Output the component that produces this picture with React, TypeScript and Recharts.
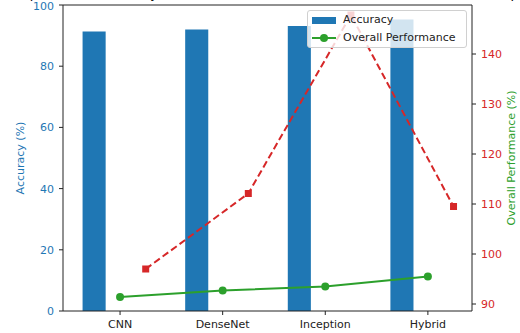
import React from 'react'
import { ComposedChart, Bar, Line, XAxis, YAxis, Legend, ReferenceLine } from 'recharts'

const categories = ['CNN', 'DenseNet', 'Inception', 'Hybrid']
const accuracy = [91.3, 92.0, 93.1, 95.3]
const overallPerformance = [91.4, 92.7, 93.5, 95.5]
const performanceScore = [97.0, 112.1, 147.8, 109.5]
const accuracyTicks = [0, 20, 40, 60, 80, 100]
const performanceTicks = [90, 100, 110, 120, 130, 140]
const categoryTicks = categories.map((_, i) => i)

const BLUE = '#1f77b4'
const GREEN = '#2ca02c'
const RED = '#d62728'
const FONT = 'DejaVu Sans'

const barData = categories.map((c, i) => ({ x: i - 0.25, name: c, accuracy: accuracy[i] }))
const overallData = categories.map((c, i) => ({ x: i, name: c, overall: overallPerformance[i] }))
const scoreData = categories.map((c, i) => ({ x: i + 0.25, name: c, score: performanceScore[i] }))

const AxisTitle = ({ viewBox, dx, text, color }: any) => {
  const cx = viewBox.x + dx
  const cy = viewBox.y + viewBox.height / 2
  return (
    <text x={cx} y={cy} transform={`rotate(-90 ${cx} ${cy})`} textAnchor="middle"
      dominantBaseline="central" fill={color} fontSize={11} fontFamily={FONT}>
      {text}
    </text>
  )
}

const SquareDot = (props: any) => {
  const { cx, cy, index } = props
  if (cx == null || cy == null) return <g key={index} />
  return <rect key={index} x={cx - 3.5} y={cy - 3.5} width={7} height={7} fill={RED} />
}

const LegendBox = () => (
  <div style={{
    position: 'relative', width: 160, height: 38, boxSizing: 'border-box',
    background: 'rgba(255,255,255,0.8)', border: '1px solid #d0d0d0', borderRadius: 3,
    fontFamily: FONT, fontSize: 11, color: '#222'
  }}>
    <div style={{ position: 'absolute', left: 4, top: 6, width: 24, height: 7, background: BLUE }} />
    <div style={{ position: 'absolute', left: 35, top: 2, lineHeight: '13px' }}>Accuracy</div>
    <div style={{ position: 'absolute', left: 4, top: 26, width: 24, height: 2, background: GREEN }} />
    <div style={{ position: 'absolute', left: 12, top: 23, width: 8, height: 8, borderRadius: 4, background: GREEN }} />
    <div style={{ position: 'absolute', left: 35, top: 20, lineHeight: '13px' }}>Overall Performance</div>
  </div>
)

const App = () => {
  return (
    <div style={{ position: 'absolute', left: 0, top: 0, width: 520, height: 333, overflow: 'hidden', background: '#fff' }}>
      <div style={{
        position: 'absolute', left: 0, top: -13, width: 535, textAlign: 'center', whiteSpace: 'nowrap',
        fontFamily: FONT, fontSize: 13, lineHeight: '13px', color: '#000'
      }}>
        Comparison of Accuracy and Overall Performance Across CNN, DenseNet, Inception and Hybrid
      </div>
      <ComposedChart width={520} height={333} data={barData}
        margin={{ top: 5, right: 0, left: 0, bottom: 0 }}>
        <XAxis dataKey="x" type="number" domain={[-0.556, 3.43]} ticks={categoryTicks}
          tickFormatter={(v: number) => categories[v] ?? ''} interval={0} height={22}
          axisLine={{ stroke: '#222' }} tickLine={{ stroke: '#222' }} tickSize={4} tickMargin={5}
          tick={{ fill: '#222', fontSize: 11, fontFamily: FONT }} allowDataOverflow
          label={{ value: 'Model', position: 'insideBottom', offset: -12, fill: '#222', fontSize: 12, fontFamily: FONT }} />
        <YAxis yAxisId="left" orientation="left" domain={[0, 100]} ticks={accuracyTicks} width={63}
          axisLine={{ stroke: '#222' }} tickLine={{ stroke: '#222' }} tickSize={4} tickMargin={5}
          tick={{ fill: BLUE, fontSize: 11, fontFamily: FONT }} allowDataOverflow
          label={(p: any) => <AxisTitle {...p} dx={20} text="Accuracy (%)" color={BLUE} />} />
        <YAxis yAxisId="right" orientation="right" domain={[88.6, 149.8]} ticks={performanceTicks} width={48}
          axisLine={{ stroke: '#222' }} tickLine={{ stroke: '#222' }} tickSize={4} tickMargin={5}
          tick={{ fill: RED, fontSize: 11, fontFamily: FONT }} allowDataOverflow
          label={(p: any) => <AxisTitle {...p} dx={39} text="Overall Performance (%)" color={GREEN} />} />
        <ReferenceLine yAxisId="left" y={100} stroke="#222" strokeWidth={1} ifOverflow="extendDomain" />
        <Bar yAxisId="left" dataKey="accuracy" fill={BLUE} barSize={26} isAnimationActive={false} />
        <Line yAxisId="right" data={overallData} dataKey="overall" type="linear" stroke={GREEN}
          strokeWidth={2} dot={{ r: 4, fill: GREEN, stroke: 'none' }} activeDot={false} isAnimationActive={false} />
        <Line yAxisId="right" data={scoreData} dataKey="score" type="linear" stroke={RED}
          strokeWidth={2} strokeDasharray="7 3.5" dot={SquareDot} activeDot={false} isAnimationActive={false} />
        <Legend layout="horizontal" verticalAlign="middle" align="center"
          wrapperStyle={{ position: 'absolute', left: 307, top: 10, width: 160, height: 38 }}
          content={() => <LegendBox />} />
      </ComposedChart>
    </div>
  )
}

export default App
